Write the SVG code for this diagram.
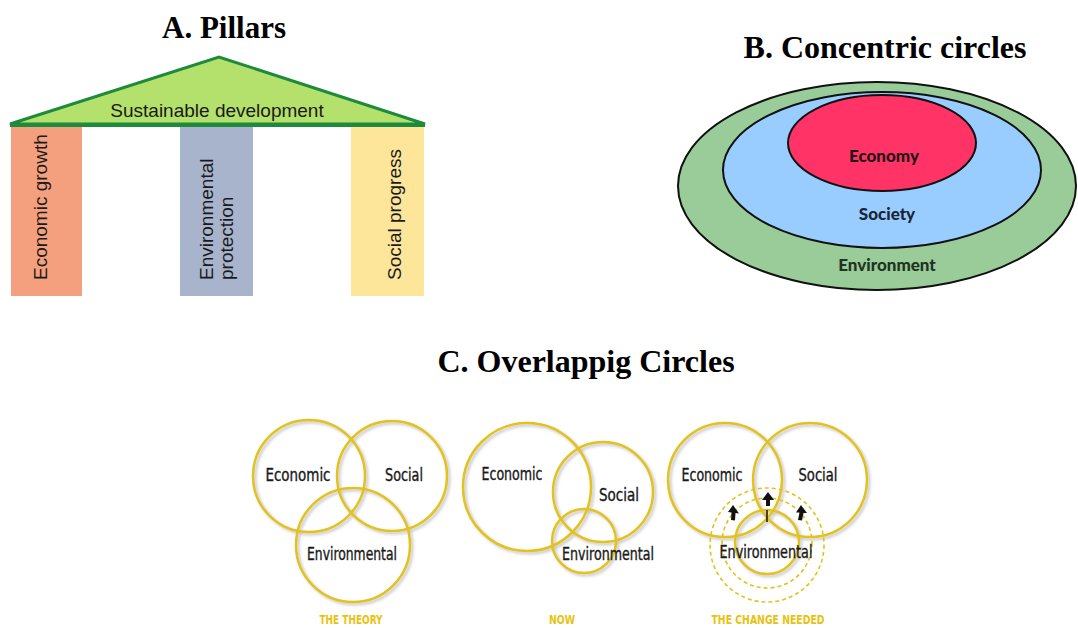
<svg xmlns="http://www.w3.org/2000/svg" width="1078" height="628" viewBox="0 0 1078 628">
<style>
.title{font-family:"Liberation Serif","Times New Roman",serif;font-weight:bold;fill:#000}
.pil{font-family:"Liberation Sans",Arial,sans-serif;font-size:19px;fill:#1a1a1a}
.conc{font-family:Lato,"Open Sans",sans-serif;font-weight:900;font-size:17px;text-anchor:middle}
.ell{stroke:#111;stroke-width:2}
.vc{fill:none;stroke:#e3c21c;stroke-width:2.5}
.vd{fill:none;stroke:#e3c21c;stroke-width:1.6;stroke-dasharray:4 3}
.vt{font-family:"Liberation Sans Narrow","DejaVu Sans Condensed","Liberation Sans",sans-serif;font-size:17px;fill:#1a1a1a;text-anchor:middle;stroke:#1a1a1a;stroke-width:0.35}
.vl{font-family:"Liberation Sans Narrow","DejaVu Sans Condensed","Liberation Sans",sans-serif;font-weight:bold;font-size:13px;fill:#e8c20e;text-anchor:middle}
</style>
<defs>
<filter id="sh" x="-10%" y="-10%" width="130%" height="130%">
<feDropShadow dx="2" dy="2" stdDeviation="1.5" flood-color="#777" flood-opacity="0.45"/>
</filter>
</defs>
<rect width="1078" height="628" fill="#fff"/>

<g id="titles">
<text class="title" x="224" y="38" font-size="31" text-anchor="middle">A. Pillars</text>
<text class="title" x="885" y="58" font-size="32" text-anchor="middle">B. Concentric circles</text>
<text class="title" x="586" y="372" font-size="32" text-anchor="middle">C. Overlappig Circles</text>
</g>

<g id="pillars">
<g id="roof">
<polygon points="10,124 219,57 425,124" fill="#b4e06c" stroke="#1e8a3c" stroke-width="3" stroke-linejoin="miter"/>
<line x1="10" y1="125" x2="425" y2="125" stroke="#1e8a3c" stroke-width="4"/>
<text class="pil" x="217" y="117" font-size="22" text-anchor="middle">Sustainable development</text>
</g>
<g id="col-economic">
<rect x="11" y="127" width="71" height="169" fill="#f4a07e"/>
<text class="pil" transform="translate(46.5,280) rotate(-90)">Economic growth</text>
</g>
<g id="col-environmental">
<rect x="180" y="127" width="73" height="169" fill="#a8b3cc"/>
<text class="pil" transform="translate(212.5,280) rotate(-90)">Environmental</text>
<text class="pil" transform="translate(233,280) rotate(-90)">protection</text>
</g>
<g id="col-social">
<rect x="351" y="127" width="73" height="169" fill="#fde59a"/>
<text class="pil" transform="translate(400.5,280) rotate(-90)">Social progress</text>
</g>
</g>

<g id="concentric">
<g id="environment">
<ellipse class="ell" cx="877" cy="186" rx="199" ry="104" fill="#99cc99"/>
<text class="conc" x="887" y="271" fill="#223322">Environment</text>
</g>
<g id="society">
<ellipse class="ell" cx="882" cy="170" rx="159" ry="78" fill="#99ccff"/>
<text class="conc" x="887" y="220" fill="#1a2535">Society</text>
</g>
<g id="economy">
<ellipse class="ell" cx="882" cy="143" rx="94" ry="48" fill="#ff3366"/>
<text class="conc" x="884" y="162" fill="#221515">Economy</text>
</g>
</g>

<g id="venn-theory">
<g filter="url(#sh)">
<circle class="vc" cx="309" cy="476" r="56"/>
<circle class="vc" cx="392" cy="476" r="55"/>
<circle class="vc" cx="353" cy="545" r="57"/>
</g>
<text class="vt" x="298" y="481" textLength="65" lengthAdjust="spacingAndGlyphs">Economic</text>
<text class="vt" x="404" y="481" textLength="38" lengthAdjust="spacingAndGlyphs">Social</text>
<text class="vt" x="352" y="560" textLength="90" lengthAdjust="spacingAndGlyphs">Environmental</text>
<text class="vl" x="351" y="624" textLength="63" lengthAdjust="spacingAndGlyphs">THE THEORY</text>
</g>

<g id="venn-now">
<g filter="url(#sh)">
<circle class="vc" cx="527" cy="487" r="64"/>
<circle class="vc" cx="603" cy="492" r="50"/>
<circle class="vc" cx="584" cy="541" r="32"/>
</g>
<text class="vt" x="512" y="480" textLength="61" lengthAdjust="spacingAndGlyphs">Economic</text>
<text class="vt" x="619" y="501" textLength="40" lengthAdjust="spacingAndGlyphs">Social</text>
<text class="vt" x="608" y="560" textLength="92" lengthAdjust="spacingAndGlyphs">Environmental</text>
<text class="vl" x="562" y="624" textLength="26" lengthAdjust="spacingAndGlyphs">NOW</text>
</g>

<g id="venn-change">
<g filter="url(#sh)">
<circle class="vc" cx="725" cy="480" r="57"/>
<circle class="vc" cx="810" cy="480" r="57"/>
<circle class="vc" cx="767" cy="542" r="32"/>
</g>
<circle class="vd" cx="767" cy="543" r="45"/>
<circle class="vd" cx="767" cy="545" r="57"/>
<text class="vt" x="712" y="481" textLength="61" lengthAdjust="spacingAndGlyphs">Economic</text>
<text class="vt" x="818" y="481" textLength="39" lengthAdjust="spacingAndGlyphs">Social</text>
<text class="vt" x="766" y="558" textLength="93" lengthAdjust="spacingAndGlyphs">Environmental</text>
<text class="vl" x="768" y="624" textLength="113" lengthAdjust="spacingAndGlyphs">THE CHANGE NEEDED</text>
</g>

<g id="connectors">
<polygon points="768,492 762,500 766,500 766,506 770,506 770,500 774,500" fill="#111"/>
<line x1="767" y1="510" x2="767" y2="522" stroke="#111" stroke-width="1.5"/>
<polygon points="733,505 728,512 731.5,512.5 731,520 735,520.5 735.5,513 739,513.5" fill="#111"/>
<polygon points="801,505 796,512.5 799.5,512.5 798,520 802,520.5 803.5,513 807,513" fill="#111"/>
</g>
</svg>
